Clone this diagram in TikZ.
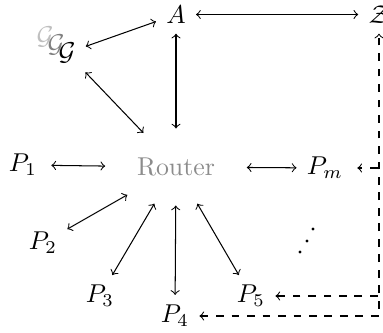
\documentclass[tikz,border=0pt]{standalone}
\usetikzlibrary{shapes.geometric}
\begin{document}
\begin{tikzpicture}[x=0.3876pt,y=-0.3876pt,
  link/.style={<->,shorten <=0.5pt,shorten >=0.5pt},
  dlink/.style={dashed,shorten <=0.5pt,shorten >=0.5pt},
  dot/.style={fill=black,circle,inner sep=0pt,minimum size=1.3pt}
]
\useasboundingbox (0,0) rectangle (383,333);
\node (A) at (176,14.5) {$A$};
\node (Z) at (379,14.5) {$\mathcal{Z}$};
\node[text=black!25] (G3) at (45,37) {$\mathcal{G}$};
\node[text=black!50] (G2) at (56,45) {$\mathcal{G}$};
\node (G) at (67,53) {$\mathcal{G}$};
\node[ellipse,minimum width=53.5pt,minimum height=28.5pt,inner sep=0pt,text=black!45] (R) at (176,167) {Router};
\node (P1) at (23,165) {$P_1$};
\node (Pm) at (325,168) {$P_m$};
\node (P2) at (43,243) {$P_2$};
\node (P3) at (100,296) {$P_3$};
\node (P4) at (175,316) {$P_4$};
\node (P5) at (251,296) {$P_5$};
\node[dot] (d1) at (300,252) {};
\node[dot] (d2) at (307,241) {};
\node[dot] (d3) at (313,229) {};
\draw[link] (A) -- (Z);
\draw[link] (G) -- (A);
\draw[link] (A) -- (R);
\draw[link] (G) -- (R);
\draw[link,shorten <=2pt] (P1) -- (R);
\draw[link] (R) -- (Pm);
\draw[link] (R) -- (P2);
\draw[link] (R) -- (P3);
\draw[link] (R) -- (P4);
\draw[link] (R) -- (P5);
\draw[dlink,<->] (P4) -| (Z);
\draw[dlink,->] (P5 -| Z) -- (P5);
\draw[dlink,->,shorten >=2pt] (Pm -| Z) -- (Pm);
\end{tikzpicture}
\end{document}
